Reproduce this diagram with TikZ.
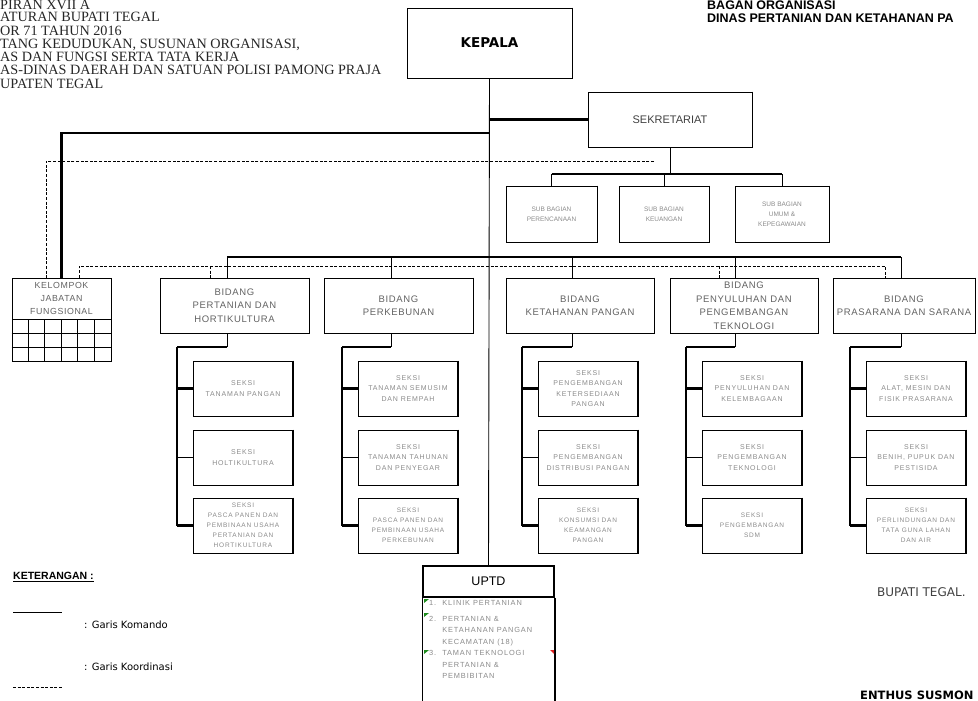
\documentclass[tikz,border=0pt]{standalone}
\usepackage{fontspec}
\setmainfont{Liberation Serif}
\setsansfont{Liberation Sans}
\newfontfamily\tahoma{DejaVu Sans}
\newfontfamily\jarang[LetterSpace=12]{Liberation Sans}
\newfontfamily\agakjarang[LetterSpace=7]{Liberation Sans}
\usetikzlibrary{positioning}

\definecolor{teksgelap}{HTML}{404040}
\definecolor{teksabu}{HTML}{626262}
\definecolor{teksmuda}{HTML}{8A8A8A}
\definecolor{hijaukom}{HTML}{1E8C1E}
\definecolor{merahkom}{HTML}{E02020}

\tikzset{
  kotak/.style={draw, line width=0.9pt, inner sep=0pt, align=center, font=\sffamily},
  bidangbox/.style={kotak, minimum width=148pt, minimum height=55pt, text=teksabu,
    font=\agakjarang\fontsize{9.5}{13.5}\selectfont},
  seksibox/.style={kotak, minimum width=99pt, minimum height=55pt, text=teksmuda,
    font=\jarang\fontsize{7}{10.5}\selectfont},
  subbox/.style={kotak, minimum height=56pt, text=teksmuda,
    font=\sffamily\fontsize{6.5}{10}\selectfont},
  komando/.style={line width=0.9pt},
  komandotebal/.style={line width=2.2pt},
  koordinasi/.style={line width=0.8pt, dash pattern=on 3pt off 1.6pt},
  sisitebal/.style={line width=1.8pt},
}

\begin{document}
\begin{tikzpicture}[x=1pt, y=-1pt]
    \useasboundingbox (0,0) rectangle (978,701);

    % Header kiri (terpotong di tepi)
    \node[anchor=base west, inner sep=0pt, text=black!85,
          font=\rmfamily\fontsize{14.2}{13}\selectfont] (header) at (0,9.5)
        {\begin{tabular}[t]{@{}l@{}}
            PIRAN XVII A\\[-1.3pt]
            ATURAN BUPATI TEGAL\\[0.2pt]
            OR 71 TAHUN 2016\\
            TANG KEDUDUKAN, SUSUNAN ORGANISASI,\\
            AS DAN FUNGSI SERTA TATA KERJA\\
            AS-DINAS DAERAH DAN SATUAN POLISI PAMONG PRAJA\\
            UPATEN TEGAL
         \end{tabular}};

    % Judul kanan
    \node[anchor=base west, inner sep=0pt, font=\sffamily\bfseries\fontsize{12.5}{12.5}\selectfont]
        (judul) at (707,10)
        {\begin{tabular}[t]{@{}l@{}}
            BAGAN ORGANISASI\\
            DINAS PERTANIAN DAN KETAHANAN PA
         \end{tabular}};

    % Kepala dan sekretariat
    \node[kotak, minimum width=165pt, minimum height=70pt,
          font=\tahoma\bfseries\fontsize{13.5}{16}\selectfont] (kepala) at (489.5,43) {KEPALA};
    \node[kotak, minimum width=164pt, minimum height=55pt, text=teksgelap,
          font=\sffamily\fontsize{11}{13}\selectfont] (sekretariat) at (670,119.5) {SEKRETARIAT};

    % Sub bagian
    \node[subbox, minimum width=91pt] (perencanaan) at (551.5,214) {SUB BAGIAN\\PERENCANAAN};
    \node[subbox, minimum width=90pt] (keuangan) at (664,214) {SUB BAGIAN\\KEUANGAN};
    \node[subbox, minimum width=94pt] (umum) at (782,214) {SUB BAGIAN\\UMUM \&\\KEPEGAWAIAN};

    % Kelompok jabatan fungsional
    \node[kotak, minimum width=99pt, minimum height=41pt, text=teksabu,
          font=\agakjarang\fontsize{8.8}{13}\selectfont] (kelompok) at (61.5,298.5)
          {KELOMPOK\\JABATAN\\FUNGSIONAL};
    \node[kotak, minimum width=99pt, minimum height=42pt, anchor=north] (kelompokgrid)
        at (kelompok.south) {};
    \foreach \i in {1,...,5}
        \draw[komando] ([xshift=\i*16.5pt]kelompokgrid.north west) -- ([xshift=\i*16.5pt]kelompokgrid.south west);
    \foreach \j in {1,2}
        \draw[komando] ([yshift=-\j*14pt]kelompokgrid.north west) -- ([yshift=-\j*14pt]kelompokgrid.north east);

    % Bidang dan seksi
    \foreach \n/\bx/\w/\sx/\px/\teks in {
        pertanian/234.5/149/227/177/{BIDANG\\PERTANIAN DAN\\HORTIKULTURA},
        perkebunan/398.5/149/391/342/{BIDANG\\PERKEBUNAN},
        ketahanan/580/148/572/522/{BIDANG\\KETAHANAN PANGAN},
        penyuluhan/744/148/735/686/{BIDANG\\PENYULUHAN DAN\\PENGEMBANGAN\\TEKNOLOGI},
        prasarana/904/142/901/850/{BIDANG\\PRASARANA DAN SARANA}}
    {
        \node[bidangbox, minimum width=\w pt] (\n) at (\bx,305.5) {\teks};
        \coordinate (atas-\n) at (\sx,257);
        \coordinate (tulang-\n) at (\px,347);
        \draw[komando] (atas-\n) -- (atas-\n |- \n.north);
        \draw[komando] (atas-\n |- \n.south) -- (atas-\n |- tulang-\n);
        \draw[komandotebal] (atas-\n |- tulang-\n) -- (tulang-\n);
    }

    \foreach \n/\px/\ta/\tb/\tc in {
        pertanian/177/{SEKSI\\TANAMAN PANGAN}/{SEKSI\\HOLTIKULTURA}/{SEKSI\\PASCA PANEN DAN\\PEMBINAAN USAHA\\PERTANIAN DAN\\HORTIKULTURA},
        perkebunan/342/{SEKSI\\TANAMAN SEMUSIM\\DAN REMPAH}/{SEKSI\\TANAMAN TAHUNAN\\DAN PENYEGAR}/{SEKSI\\PASCA PANEN DAN\\PEMBINAAN USAHA\\PERKEBUNAN},
        ketahanan/522/{SEKSI\\PENGEMBANGAN\\KETERSEDIAAN\\PANGAN}/{SEKSI\\PENGEMBANGAN\\DISTRIBUSI PANGAN}/{SEKSI\\KONSUMSI DAN\\KEAMANGAN\\PANGAN},
        penyuluhan/686/{SEKSI\\PENYULUHAN DAN\\KELEMBAGAAN}/{SEKSI\\PENGEMBANGAN\\TEKNOLOGI}/{SEKSI\\PENGEMBANGAN\\SDM},
        prasarana/850/{SEKSI\\ALAT, MESIN DAN\\FISIK PRASARANA}/{SEKSI\\BENIH, PUPUK DAN\\PESTISIDA}/{SEKSI\\PERLINDUNGAN DAN\\TATA GUNA LAHAN\\DAN AIR}}
    {
        \node[seksibox] (\n-1) at ({\px+66},388.5) {\ta};
        \node[seksibox] (\n-2) at ({\px+66},457.5) {\tb};
        \node[seksibox, font=\jarang\fontsize{6.5}{10}\selectfont] (\n-3) at ({\px+66},525.5) {\tc};
        \draw[komandotebal] (tulang-\n) -- (\n-3.west -| tulang-\n);
        \draw[komandotebal] (\n-1.west -| tulang-\n) -- (\n-1.west);
        \draw[komando] (\n-2.west -| tulang-\n) -- (\n-2.west);
        \draw[komandotebal] (\n-3.west -| tulang-\n) -- (\n-3.west);
        \foreach \k in {1,2,3}
            \draw[sisitebal] (\n-\k.north east) -- (\n-\k.south east) -- (\n-\k.south west);
    }

    % Sisi tebal kotak lain
    \foreach \n in {kepala,sekretariat,perencanaan,keuangan,umum,pertanian,perkebunan,ketahanan,penyuluhan,prasarana}
        \draw[sisitebal] (\n.north east) -- (\n.south east) -- (\n.south west);

    % UPTD
    \node[kotak, line width=1.5pt, minimum width=131pt, minimum height=31pt,
          font=\sffamily\fontsize{12.5}{14}\selectfont] (uptd) at (488.5,581.5) {UPTD};
    \coordinate (dasar) at (0,701);
    \draw[line width=1.5pt] (uptd.south west) -- (uptd.south west |- dasar);
    \draw[line width=1.5pt] (uptd.south east) -- (uptd.south east |- dasar);
    \node[anchor=base west, inner sep=0pt, text=teksmuda, align=left,
          font=\jarang\fontsize{7.4}{11.5}\selectfont] (uptdlist) at (429,605)
        {\begin{tabular}[t]{@{}l@{\hspace{6pt}}l@{}}
            1. & KLINIK PERTANIAN\\[4.5pt]
            2. & PERTANIAN \&\\
               & KETAHANAN PANGAN\\
               & KECAMATAN (18)\\
            3. & TAMAN TEKNOLOGI\\
               & PERTANIAN \&\\
               & PEMBIBITAN
         \end{tabular}};
    % tanda komentar
    \foreach \ty in {599,613,650}
        \fill[hijaukom] (424,\ty) -- ++(5,0) -- ++(-5,4) -- cycle;
    \fill[merahkom] (554,650) -- ++(-4,0) -- ++(4,4) -- cycle;

    % Garis komando
    \draw[komando] (kepala.south) -- (uptd.north);
    \draw[komandotebal] (kepala.south |- sekretariat.west) -- (sekretariat.west);
    \coordinate (kbus) at (489.5,133);
    \draw[komandotebal] (kbus) -| (kelompok.north);
    \draw[komandotebal] (atas-pertanian) -- (atas-prasarana);
    \coordinate (sbbus) at (670,174);
    \draw[komando] (sekretariat.south) -- (sbbus);
    \draw[komandotebal] (perencanaan.north |- sbbus) -- (umum.north |- sbbus);
    \foreach \n in {perencanaan,keuangan,umum}
        \draw[komando] (\n.north) -- (\n.north |- sbbus);

    % Garis koordinasi
    \coordinate (ujungkoor) at (654,161);
    \draw[koordinasi] (ujungkoor) -| ([xshift=-15.5pt]kelompok.north);
    \coordinate (dk1) at (79,266);
    \coordinate (dk2) at (210,266);
    \coordinate (dk3) at (719,266);
    \coordinate (dk4) at (885,266);
    \draw[koordinasi] (dk1 |- kelompok.north) -- (dk1) -- (dk4) -- (dk4 |- prasarana.north);
    \draw[koordinasi] (dk2) -- (dk2 |- pertanian.north);
    \draw[koordinasi] (dk3) -- (dk3 |- penyuluhan.north);

    % Keterangan
    \node[anchor=west, inner sep=0pt, font=\sffamily\bfseries\fontsize{10.5}{12}\selectfont]
        (keterangan) at (13,577) {\underline{KETERANGAN :}};
    \coordinate (kom-a) at (13,612);
    \coordinate (kom-b) at (62,612);
    \draw[komando] (kom-a) -- (kom-b);
    \node[anchor=west, inner sep=0pt, font=\tahoma\fontsize{10}{12}\selectfont]
        (ketkomando) at (84,625) {: Garis Komando};
    \coordinate (koor-a) at (13,687);
    \coordinate (koor-b) at (62,687);
    \draw[koordinasi] (koor-a) -- (koor-b);
    \node[anchor=west, inner sep=0pt, font=\tahoma\fontsize{10}{12}\selectfont]
        (ketkoor) at (84,667) {: Garis Koordinasi};

    % Tanda tangan
    \node[anchor=west, inner sep=0pt, text=teksgelap, font=\tahoma\fontsize{12}{14}\selectfont]
        (bupati) at (877,592) {BUPATI TEGAL.};
    \node[anchor=west, inner sep=0pt, font=\tahoma\bfseries\fontsize{11.5}{13}\selectfont]
        (nama) at (860,695) {ENTHUS SUSMON};
\end{tikzpicture}
\end{document}
